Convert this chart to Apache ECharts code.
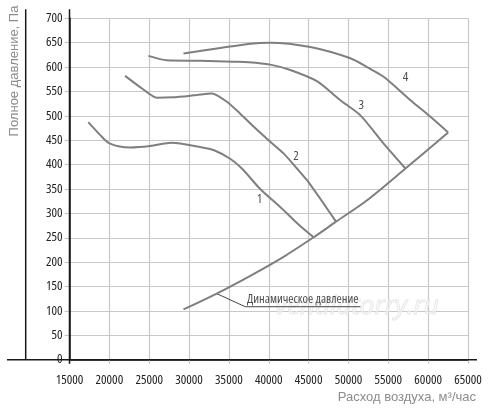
<!DOCTYPE html>
<html><head><meta charset="utf-8">
<script src="https://cdn.jsdelivr.net/npm/echarts@6/dist/echarts.min.js"></script>
<style>html,body{margin:0;padding:0;background:#fff}#c{width:500px;height:411px}</style>
</head><body><div id="c"></div>
<script>
// Data (x: air flow m3/h, y: total pressure Pa)
const curve1 = [[17360,487],[18830,461],[20090,443],[22600,435],[25110,438],[27840,445],[31400,436],[33070,430],[35160,412],[36630,392],[38930,350],[41440,313],[43950,274],[45630,251]];
const curve2 = [[21970,582],[23860,559],[25950,537],[28040,538],[30550,542],[32860,546],[34750,529],[36390,505],[38090,478],[39970,450],[41860,423],[43540,392],[44800,368],[46890,320],[48440,283]];
const curve3 = [[24900,623],[27210,614],[31400,613],[35580,611],[37500,610],[40190,605],[42700,594],[46050,571],[48980,532],[51500,501],[54420,443],[57150,392]];
const curve4 = [[29300,628],[33490,638],[37680,648],[40190,650],[45210,641],[50240,618],[52340,600],[54420,580],[57780,532],[60290,498],[62510,466]];
const dynamicCurve = [[29300,103],[33280,134],[37680,172],[41860,211],[45630,251],[48440,283],[52340,327],[57150,392],[62510,466]];
const curveLabels = [["1",38840,329],["2",43420,417],["3",51620,521],["4",57150,579]];
const leader = [[33400,136],[37050,108.6],[51500,108.6]];
const annotation = ["Динамическое давление",37270,124];
const xMin = 15000, xMax = 65000, xStep = 5000;
const yMin = 0, yMax = 700, yStep = 50;
const yTitle = "Полное давление, Па";
const xTitle = "Расход воздуха, м³/час";
const watermark = "ventilatorry.ru";

const W = 500, H = 411;
const G = {left:69.5, right:32, top:18.3, bottom:51.3};
const COND_FAMILY = '"Open Sans","DejaVu Sans Condensed",sans-serif';
const COND_WEIGHT = 'condensed';
const curveStyle = {color:'#7f7f7f', width:2};
const axisDark = '#1a1a1a';
const gridGray = '#c8c8c8';

function curve(data, smooth){
  return {type:'line', data:data, showSymbol:false, smooth:smooth, lineStyle:curveStyle, silent:true, z:3};
}

const chart = echarts.init(document.getElementById('c'), null, {renderer:'canvas'});
const yAxisBottom = H - G.bottom;
chart.setOption({
  animation:false,
  backgroundColor:'#fff',
  grid:{left:G.left, right:G.right, top:G.top, bottom:G.bottom, containLabel:false},
  xAxis:{type:'value', min:xMin, max:xMax, interval:xStep,
    axisLine:{show:true, lineStyle:{color:axisDark, width:1.5}},
    axisTick:{show:true, length:4, lineStyle:{color:gridGray, width:1.2}},
    splitLine:{show:true, lineStyle:{color:gridGray, width:1.2}},
    axisLabel:{fontFamily:COND_FAMILY, fontWeight:COND_WEIGHT, fontSize:13, color:'#222', margin:14, formatter:v=>String(v)}},
  yAxis:{type:'value', min:yMin, max:yMax, interval:yStep,
    axisLine:{show:true, onZero:false, lineStyle:{color:axisDark, width:1.5}},
    axisTick:{show:true, length:5, lineStyle:{color:gridGray, width:1.2}},
    splitLine:{show:true, lineStyle:{color:gridGray, width:1.2}},
    axisLabel:{fontFamily:COND_FAMILY, fontWeight:COND_WEIGHT, fontSize:13, color:'#222', margin:7, padding:[0,0,7,0], formatter:v=>String(v)}},
  series:[
    curve(curve1, 0.3), curve(curve2, 0.2), curve(curve3, 0.25), curve(curve4, 0.25), curve(dynamicCurve, 0.3),
    {type:'line', data:leader, showSymbol:false, lineStyle:{color:'#444', width:1}, z:2},
    {type:'scatter', symbolSize:0, z:5,
      data:curveLabels.map(d=>({name:d[0], value:[d[1],d[2]]})),
      label:{show:true, position:'inside', formatter:p=>p.name, fontFamily:COND_FAMILY, fontWeight:COND_WEIGHT, fontSize:13, color:'#222'}},
    {type:'scatter', symbolSize:0, z:5,
      data:[{name:annotation[0], value:[annotation[1],annotation[2]]}],
      label:{show:true, position:'right', distance:0, formatter:p=>p.name, fontFamily:COND_FAMILY, fontWeight:COND_WEIGHT, fontSize:12.5, color:'#222'}}
  ],
  graphic:[
    {type:'text', z:1, silent:true, x:275, y:307,
      style:{text:watermark, font:'italic 26px "Open Sans",sans-serif', fill:'rgba(245,245,245,0.5)', stroke:'#e2e2e2', lineWidth:0.8, verticalAlign:'middle'}},
    {type:'line', z:10, silent:true, shape:{x1:7, y1:yAxisBottom, x2:477, y2:yAxisBottom}, style:{stroke:axisDark, lineWidth:1.5}},
    {type:'line', z:10, silent:true, shape:{x1:25.7, y1:9.3, x2:25.7, y2:yAxisBottom}, style:{stroke:axisDark, lineWidth:1.5}},
    {type:'line', z:10, silent:true, shape:{x1:G.left, y1:9.3, x2:G.left, y2:yAxisBottom+4}, style:{stroke:axisDark, lineWidth:1.5}},
    {type:'text', silent:true, x:14, y:71, rotation:Math.PI/2,
      style:{text:yTitle, font:'13px "Liberation Sans",sans-serif', fill:'#8c8c8c', align:'center', verticalAlign:'middle'}},
    {type:'text', silent:true, x:476, y:397,
      style:{text:xTitle, font:'13px "Liberation Sans",sans-serif', fill:'#8c8c8c', align:'right', verticalAlign:'middle'}}
  ]
});
</script></body></html>
